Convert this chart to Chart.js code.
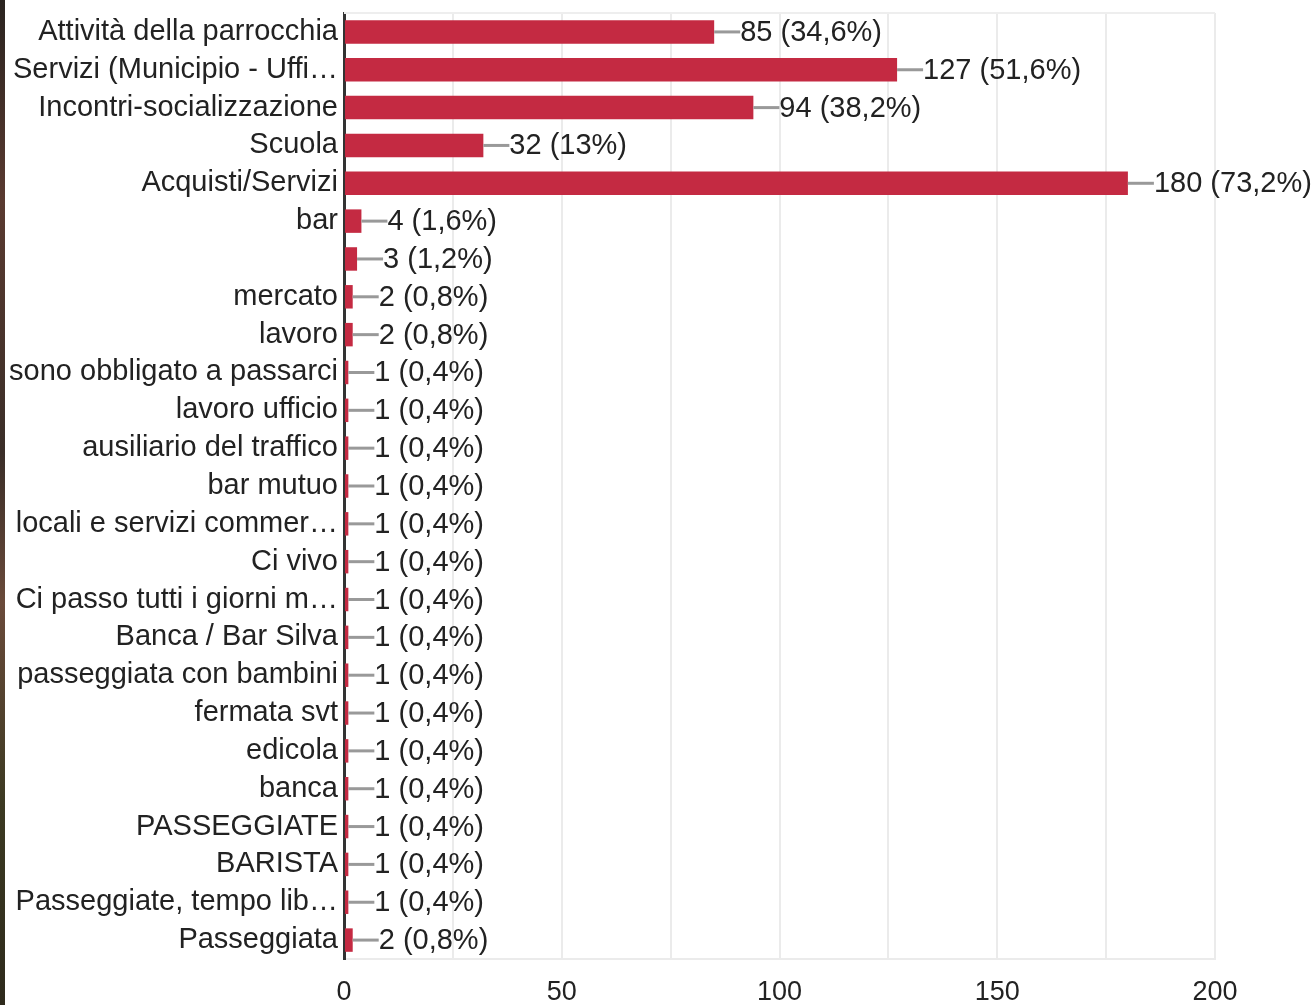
<!DOCTYPE html>
<html>
<head>
<meta charset="utf-8">
<script src="https://cdn.jsdelivr.net/npm/chart.js@4/dist/chart.umd.min.js"></script>
<style>
  html, body { margin: 0; padding: 0; background: #fff; }
  #wrap { position: relative; width: 1316px; height: 1005px; }
  #strip { position: absolute; left: 0; top: 0; width: 5px; height: 1005px;
           background: linear-gradient(#2a2420, #5a3a30 20%, #3a2e28 45%, #6a4a3a 60%, #3c3a22 80%, #2e2a1c); }
</style>
</head>
<body>
<div id="wrap">
  <div id="strip"></div>
  <canvas id="c" width="1316" height="1005"></canvas>
</div>
<script>
const categories = [
  "Attività della parrocchia",
  "Servizi (Municipio - Uffi…",
  "Incontri-socializzazione",
  "Scuola",
  "Acquisti/Servizi",
  "bar",
  "",
  "mercato",
  "lavoro",
  "sono obbligato a passarci",
  "lavoro ufficio",
  "ausiliario del traffico",
  "bar mutuo",
  "locali e servizi commer…",
  "Ci vivo",
  "Ci passo tutti i giorni m…",
  "Banca / Bar Silva",
  "passeggiata con bambini",
  "fermata svt",
  "edicola",
  "banca",
  "PASSEGGIATE",
  "BARISTA",
  "Passeggiate, tempo lib…",
  "Passeggiata"
];
const counts = [85, 127, 94, 32, 180, 4, 3, 2, 2, 1, 1, 1, 1, 1, 1, 1, 1, 1, 1, 1, 1, 1, 1, 1, 2];
const percents = ["34,6%", "51,6%", "38,2%", "13%", "73,2%", "1,6%", "1,2%", "0,8%", "0,8%",
  "0,4%", "0,4%", "0,4%", "0,4%", "0,4%", "0,4%", "0,4%", "0,4%", "0,4%", "0,4%", "0,4%",
  "0,4%", "0,4%", "0,4%", "0,4%", "0,8%"];
const xTicks = [0, 50, 100, 150, 200];

const labelPlugin = {
  id: 'valueLabels',
  afterDatasetsDraw(chart) {
    const ctx = chart.ctx;
    const meta = chart.getDatasetMeta(0);
    ctx.save();
    meta.data.forEach((bar, i) => {
      const x = bar.x, y = bar.y;
      ctx.strokeStyle = '#999';
      ctx.lineWidth = 3;
      ctx.beginPath();
      ctx.moveTo(x, y);
      ctx.lineTo(x + 26, y);
      ctx.stroke();
      ctx.fillStyle = '#222';
      ctx.font = '29px "Liberation Sans", Arial, sans-serif';
      ctx.textAlign = 'left';
      ctx.textBaseline = 'middle';
      ctx.fillText(counts[i] + ' (' + percents[i] + ')', x + 26, y + 1);
    });
    const a = chart.chartArea;
    ctx.strokeStyle = '#eeeeee';
    ctx.lineWidth = 2;
    ctx.beginPath();
    ctx.moveTo(a.left, a.top);
    ctx.lineTo(a.right, a.top);
    ctx.stroke();
    ctx.restore();
  }
};

new Chart(document.getElementById('c'), {
  type: 'bar',
  data: {
    labels: categories,
    datasets: [{
      data: counts,
      backgroundColor: '#c42a42',
      borderWidth: 0,
      categoryPercentage: 0.62,
      barPercentage: 1.0
    }]
  },
  options: {
    indexAxis: 'y',
    responsive: false,
    animation: false,
    layout: { padding: { left: 0, right: 101, top: 13, bottom: 0 } },
    plugins: { legend: { display: false }, tooltip: { enabled: false } },
    scales: {
      x: {
        min: 0, max: 200,
        afterBuildTicks(scale) {
          const t = [];
          for (let v = 0; v <= 200; v += 25) t.push({ value: v });
          scale.ticks = t;
        },
        afterFit(scale) { scale.height = 46; scale.paddingLeft = 0; scale.paddingRight = 0; },
        grid: {
          drawTicks: false,
          tickLength: 0,
          lineWidth: 2,
          color: (c) => (c.tick && c.tick.value === 0) ? '#333' : '#ebebeb'
        },
        border: { color: '#ebebeb', width: 2 },
        ticks: {
          padding: 17,
          color: '#222',
          maxRotation: 0,
          font: { family: '"Liberation Sans Narrow", "Arial Narrow", "Liberation Sans", Arial, sans-serif', size: 27 },
          callback: (v) => xTicks.includes(v) ? String(v) : ''
        }
      },
      y: {
        afterFit(scale) { scale.width = 344; scale.paddingTop = 0; scale.paddingBottom = 0; },
        grid: { display: false, drawTicks: false },
        border: { color: '#333', width: 3 },
        ticks: {
          padding: 6,
          color: '#222',
          autoSkip: false,
          font: { family: '"Liberation Sans", Arial, sans-serif', size: 29 }
        }
      }
    }
  },
  plugins: [labelPlugin]
});
</script>
</body>
</html>
